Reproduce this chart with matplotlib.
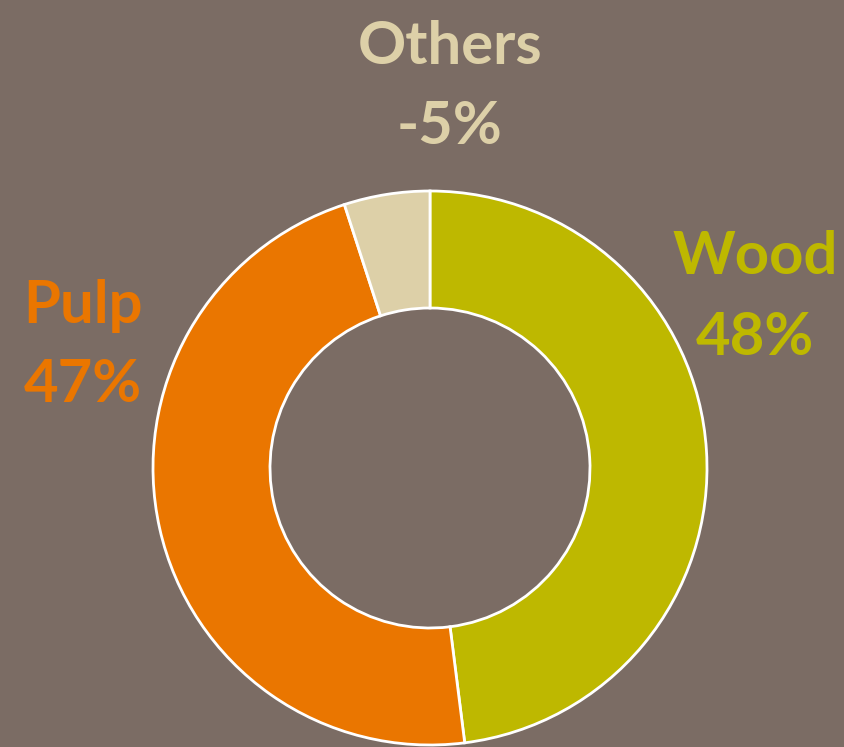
import matplotlib
matplotlib.use("Agg")
import matplotlib.pyplot as plt

categories = ["Wood", "Pulp", "Others"]
values = [48, 47, 5]
label_texts = ["48%", "47%", "-5%"]
colors = ["#BEB800", "#EA7600", "#DDD0A8"]
bg = "#7B6C64"

W, H = 845, 747
fig = plt.figure(figsize=(W / 100, H / 100), dpi=100, facecolor=bg)
ax = fig.add_axes([0, 0, 1, 1])
ax.set_facecolor(bg)

cx, cy, R = 430, H - 468, 277
ax.pie(values, colors=colors, startangle=90, counterclock=False,
       center=(cx, cy), radius=R, frame=True,
       wedgeprops=dict(width=R - 160, edgecolor="white", linewidth=2))
ax.set_xlim(0, W)
ax.set_ylim(0, H)
ax.set_aspect("equal")
ax.axis("off")

label_pos = {"Wood": (755, 257, 338), "Pulp": (83, 306, 385), "Others": (450, 47, 127)}
font = dict(family=["Lato", "DejaVu Sans"], weight="bold", fontsize=43)
for cat, txt, col in zip(categories, label_texts, colors):
    x, y1, y2 = label_pos[cat]
    ax.text(x, H - y1, cat, color=col, ha="center", va="center", **font)
    ax.text(x, H - y2, txt, color=col, ha="center", va="center", **font)

fig.savefig("out.png", dpi=100, facecolor=bg)
